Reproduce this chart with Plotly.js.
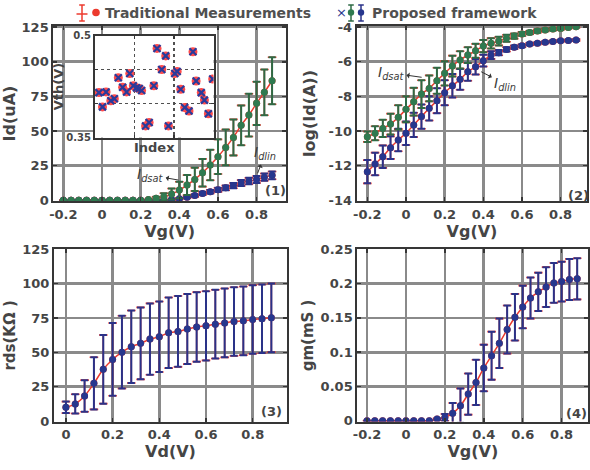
<!DOCTYPE html>
<html>
<head>
<meta charset="utf-8">
<script src="https://cdn.plot.ly/plotly-3.0.1.min.js"></script>
<style>html,body{margin:0;padding:0;background:#fff;}#chart{width:590px;height:470px;}</style>
</head>
<body>
<div id="chart"></div>
<script>
// ---------- data ----------
const vg = [-0.2,-0.16,-0.12,-0.08,-0.04,0,0.04,0.08,0.12,0.16,0.2,0.24,0.28,0.32,0.36,0.4,0.44,0.48,0.52,0.56,0.6,0.64,0.68,0.72,0.76,0.8,0.84,0.88];
const vd = [0,0.04,0.08,0.12,0.16,0.2,0.24,0.28,0.32,0.36,0.4,0.44,0.48,0.52,0.56,0.6,0.64,0.68,0.72,0.76,0.8,0.84,0.88];

// Panel 1: Id (uA)
const idsat    = [0,0,0,0,0,0,0,0,0,0,0.05,0.5,1.4,2.6,4.5,7.4,11,15.1,19.9,25.5,31.5,38.2,45.4,54.1,61.5,70,77.9,86.3];
const idsatErr = [0,0,0,0,0,0,0,0,0,0,0,0.3,1.2,2.5,4,6,7.2,8.4,10,11,12.5,12.9,13,14.4,15.4,15.6,16.5,17];
const idlin    = [0,0,0,0,0,0,0,0,0,0,0,0,0.05,0.15,0.5,1.2,2.2,3.4,5.0,6.2,7.6,9.0,10.6,12.5,13.9,15.0,16.7,18.0];
const idlinErr = [0,0,0,0,0,0,0,0,0,0,0,0,0,0.1,0.3,0.5,0.7,0.9,1.1,1.3,1.5,1.7,1.9,2.1,2.3,2.5,2.6,2.8];

// Panel 2: log(Id(A))
const logIdsat    = [-10.33,-10.13,-9.85,-9.6,-9.21,-8.75,-8.31,-7.87,-7.54,-7.1,-6.67,-6.25,-5.9,-5.62,-5.37,-5.1,-4.94,-4.81,-4.65,-4.52,-4.4,-4.31,-4.23,-4.17,-4.12,-4.08,-4.02,-3.98];
const logIdsatErr = [0.3,0.4,0.5,0.6,0.7,0.75,0.8,0.8,0.75,0.75,0.7,0.6,0.5,0.45,0.4,0.35,0.3,0.25,0.2,0.15,0.12,0.1,0.1,0.08,0.08,0.07,0.06,0.06];
const logIdlin    = [-12.35,-11.9,-11.48,-10.96,-10.52,-10.13,-9.65,-9.17,-8.69,-8.25,-7.79,-7.39,-7.02,-6.58,-6.29,-5.94,-5.62,-5.48,-5.29,-5.17,-5.08,-4.98,-4.94,-4.88,-4.83,-4.79,-4.77,-4.75];
const logIdlinErr = [0.67,0.65,0.65,0.65,0.65,0.68,0.7,0.7,0.7,0.72,0.72,0.68,0.6,0.52,0.45,0.34,0.22,0.15,0.12,0.1,0.08,0.07,0.06,0.06,0.05,0.05,0.05,0.05];

// Panel 3: rds (kOhm) vs Vd
const rds    = [9.9,12.4,18.2,27.4,37.6,44.8,50.1,54,56.5,59.6,61.3,64.2,65.2,66.9,68.5,69.3,70.5,71.4,72.4,72.9,73.9,74.4,75.1];
const rdsErr = [4.2,7,11.5,19,25,26.5,26.5,26.4,26.2,26,25.7,25.7,25.8,25.5,25.3,25.2,25,25.1,25,25,25,25,25];

// Panel 4: gm (mS)
const gm    = [0,0,0,0,0,0,0,0,0,0.0025,0.005,0.011,0.022,0.039,0.056,0.077,0.095,0.113,0.133,0.151,0.166,0.179,0.188,0.195,0.201,0.203,0.206,0.207];
const gmErr = [0,0,0,0,0,0,0,0,0,0.001,0.005,0.015,0.025,0.03,0.033,0.034,0.035,0.036,0.035,0.034,0.031,0.03,0.028,0.029,0.029,0.029,0.03,0.03];

// Inset: Vth vs Index
const vthIndex = [1.0,1.9,2.8,4.0,4.9,5.9,7.0,8.0,8.8,9.7,10.5,11.2,11.8,12.8,13.7,14.9,15.7,16.9,17.9,18.6,20.2,20.8,21.7,22.7,23.8,24.8,25.6,26.9,27.7,28.7,29.8];
const vth      = [0.416,0.395,0.417,0.404,0.407,0.438,0.424,0.417,0.444,0.426,0.423,0.422,0.419,0.367,0.372,0.426,0.481,0.450,0.470,0.367,0.444,0.447,0.421,0.394,0.389,0.476,0.433,0.416,0.405,0.385,0.436];

// tick labels
const vgTickVals = [-0.2,0,0.2,0.4,0.6,0.8];
const vgTickText = ['-0.2','0','0.2','0.4','0.6','0.8'];
const vdTickVals = [0,0.2,0.4,0.6,0.8];
const vdTickText = ['0','0.2','0.4','0.6','0.8'];
const idTickVals = [0,25,50,75,100,125];
const logTickVals = [-14,-12,-10,-8,-6,-4];
const logTickText = ['-14','-12','-10','-8','-6','-4'];
const gmTickVals = [0,0.05,0.1,0.15,0.2,0.25];
const gmTickText = ['0','0.05','0.1','0.15','0.2','0.25'];
const vthTickVals = [0.35,0.5];
const vthTickText = ['0.35','0.5'];
const vthGridVals = [0.4,0.45];
const idxGridVals = [10,20];

// ---------- styles ----------
const F = 'DejaVu Sans';
const RED = '#ec3a2e', GREEN = '#2f7a50', GREEN_E = '#2e6a45', BLUE = '#27378e', BLUE_E = '#2a3288';
const TXT = '#454545';

function redTrace(x, y, e, xa, ya) {
  return {x: x, y: y, xaxis: xa, yaxis: ya, type: 'scatter', mode: 'lines+markers',
    line: {color: RED, width: 1.5, shape: 'spline'},
    marker: {color: RED, size: 7},
    error_y: {type: 'data', array: e, visible: true, color: RED, thickness: 1.6, width: 4.3},
    hoverinfo: 'skip', showlegend: false};
}
function propTrace(x, y, e, xa, ya, c, ce) {
  return {x: x, y: y, xaxis: xa, yaxis: ya, type: 'scatter', mode: 'markers',
    marker: {color: c, size: 7},
    error_y: {type: 'data', array: e, visible: true, color: ce, thickness: 2, width: 3.6},
    hoverinfo: 'skip', showlegend: false};
}

const traces = [
  redTrace(vg, idlin, idlinErr, 'x', 'y'),
  redTrace(vg, idsat, idsatErr, 'x', 'y'),
  propTrace(vg, idlin, idlinErr, 'x', 'y', BLUE, BLUE_E),
  propTrace(vg, idsat, idsatErr, 'x', 'y', GREEN, GREEN_E),

  redTrace(vg, logIdlin, logIdlinErr, 'x2', 'y2'),
  redTrace(vg, logIdsat, logIdsatErr, 'x2', 'y2'),
  propTrace(vg, logIdlin, logIdlinErr, 'x2', 'y2', BLUE, BLUE_E),
  propTrace(vg, logIdsat, logIdsatErr, 'x2', 'y2', GREEN, GREEN_E),

  redTrace(vd, rds, rdsErr, 'x3', 'y3'),
  propTrace(vd, rds, rdsErr, 'x3', 'y3', BLUE, BLUE_E),

  redTrace(vg, gm, gmErr, 'x4', 'y4'),
  propTrace(vg, gm, gmErr, 'x4', 'y4', BLUE, BLUE_E),

  {x: vthIndex, y: vth, xaxis: 'x5', yaxis: 'y5', type: 'scatter', mode: 'markers',
   marker: {color: '#ff4a4a', size: 9}, hoverinfo: 'skip', showlegend: false},
  {x: vthIndex, y: vth, xaxis: 'x5', yaxis: 'y5', type: 'scatter', mode: 'markers',
   marker: {symbol: 'x-thin-open', color: '#2b3a9a', size: 7, line: {color: '#2b3a9a', width: 2.2}},
   hoverinfo: 'skip', showlegend: false}
];

function axis(extra) {
  return Object.assign({
    showline: true, linecolor: '#363636', linewidth: 2, mirror: 'ticks',
    ticks: 'inside', ticklen: 4, tickwidth: 1.5, tickcolor: '#363636',
    showgrid: true, gridcolor: '#8a8a8a', gridwidth: 2.6, zeroline: false,
    tickfont: {family: F, size: 13, color: TXT, weight: 'bold'},
    fixedrange: true, automargin: false
  }, extra);
}
function ttl(t, s, st) { return {text: t, font: {family: F, size: s, color: TXT, weight: 'bold'}, standoff: st}; }

const W = 590, H = 470;
const px = v => v / W;
const py = v => 1 - v / H;
const insetGrid = {showgrid: true, gridcolor: '#505050', gridwidth: 1.5, griddash: 'dot', ticks: 'inside', ticklen: 3, tickcolor: '#363636', tickwidth: 1.5};

const layout = {
  width: W, height: H,
  margin: {l: 0, r: 0, t: 0, b: 0},
  paper_bgcolor: '#fff', plot_bgcolor: '#fff',
  showlegend: false,
  xaxis:  axis({domain: [px(53.3), px(286)], range: [-0.252, 0.952], anchor: 'y', tickvals: vgTickVals, ticktext: vgTickText, title: ttl('Vg(V)', 16, 3)}),
  yaxis:  axis({domain: [py(201), py(26)], range: [-0.5, 125.8], anchor: 'x', tickvals: idTickVals, title: ttl('Id(uA)', 16, 3)}),
  xaxis2: axis({domain: [px(356.7), px(587.3)], range: [-0.255, 0.938], anchor: 'y2', tickvals: vgTickVals, ticktext: vgTickText, title: ttl('Vg(V)', 16, 3)}),
  yaxis2: axis({domain: [py(201), py(26)], range: [-14.04, -3.94], anchor: 'x2', tickvals: logTickVals, ticktext: logTickText, title: ttl('log(Id(A))', 16, 9)}),
  xaxis3: axis({domain: [px(54), px(287)], range: [-0.051, 0.947], anchor: 'y3', tickvals: vdTickVals, ticktext: vdTickText, title: ttl('Vd(V)', 16, 3)}),
  yaxis3: axis({domain: [py(421.5), py(249.3)], range: [-0.4, 125], anchor: 'x3', tickvals: idTickVals, title: ttl('rds(KΩ )', 15, 3)}),
  xaxis4: axis({domain: [px(357.3), px(588.3)], range: [-0.25, 0.937], anchor: 'y4', tickvals: vgTickVals, ticktext: vgTickText, title: ttl('Vg(V)', 16, 3)}),
  yaxis4: axis({domain: [py(421.5), py(249.3)], range: [-0.001, 0.25], anchor: 'x4', tickvals: gmTickVals, ticktext: gmTickText, title: ttl('gm(mS )', 15, 3)}),
  xaxis5: axis({domain: [px(95), px(213.5)], range: [0, 30], anchor: 'y5', tickvals: [], showticklabels: false,
    showgrid: false, ticklen: 3, linewidth: 2,
    minor: Object.assign({tickvals: idxGridVals}, insetGrid),
    title: ttl('Index', 13, 4)}),
  yaxis5: axis({domain: [py(137.5), py(35.5)], range: [0.35, 0.5], anchor: 'x5', tickvals: vthTickVals, ticktext: vthTickText,
    showgrid: false, ticklen: 3, linewidth: 2,
    minor: Object.assign({tickvals: vthGridVals}, insetGrid),
    tickfont: {family: F, size: 10, color: TXT, weight: 'bold'},
    title: ttl('Vth(V)', 13, 0)}),
  annotations: [],
  shapes: []
};

const A = layout.annotations, S = layout.shapes;
const lab = (t, x, y, s) => A.push({text: t, xref: 'paper', yref: 'paper', x: px(x), y: py(y), showarrow: false,
  font: {family: F, size: s, color: TXT, weight: 'bold'}, xanchor: 'center', yanchor: 'middle'});
lab('(1)', 275, 190, 13);
lab('(2)', 578, 195, 13);
lab('(3)', 271.7, 411.7, 13);
lab('(4)', 576.7, 413.3, 13);

// I_dsat / I_dlin labels with arrows pointing toward the label
const note = (t, xa, ya, x, y, ax, ay) => A.push({text: '<i>I<sub>' + t + '</sub></i>', xref: xa, yref: ya, x: x, y: y,
  ax: ax, ay: ay, showarrow: true, arrowside: 'start', arrowhead: 2, arrowsize: 0.9, arrowwidth: 1, arrowcolor: '#333',
  standoff: 0, startstandoff: 1,
  font: {family: F, size: 14, color: '#3c3c3c'}});
note('dsat', 'x', 'y', 0.396, 14.6, -28.3, -5);
note('dlin', 'x', 'y', 0.805, 19.5, 7.7, -20.3);
note('dsat', 'x2', 'y2', 0.081, -6.90, -30.7, -4.3);
note('dlin', 'x2', 'y2', 0.389, -6.58, 24, 12.3);

// top legend (drawn)
A.push({text: 'Traditional Measurements', xref: 'paper', yref: 'paper', x: px(313), y: py(13), showarrow: false,
  xanchor: 'right', yanchor: 'middle', font: {family: F, size: 14, color: '#505050', weight: 'bold'}});
A.push({text: 'Proposed framework', xref: 'paper', yref: 'paper', x: px(370), y: py(13), showarrow: false,
  xanchor: 'left', yanchor: 'middle', font: {family: F, size: 14, color: '#505050', weight: 'bold'}});
A.push({text: '×', xref: 'paper', yref: 'paper', x: px(341), y: py(13), showarrow: false,
  xanchor: 'center', yanchor: 'middle', font: {family: F, size: 13, color: BLUE}});
const ln = (x0, y0, x1, y1, c, w) => S.push({type: 'line', xref: 'paper', yref: 'paper', x0: px(x0), y0: py(y0), x1: px(x1), y1: py(y1), line: {color: c, width: w}});
const dot = (x, y, r, c) => S.push({type: 'circle', xref: 'paper', yref: 'paper', x0: px(x - r), x1: px(x + r), y0: py(y + r), y1: py(y - r), fillcolor: c, line: {width: 0}});
function errGlyph(x, c, withLine) {
  ln(x, 5, x, 21, c, 1.5);
  ln(x - 2.8, 5, x + 2.8, 5, c, 1.5);
  ln(x - 2.8, 21, x + 2.8, 21, c, 1.5);
  if (withLine) ln(x - 5.5, 14, x + 5.5, 14, c, 1.5);
}
errGlyph(82, RED, true);
dot(96, 12.5, 3.8, RED);
errGlyph(351, GREEN_E, false);
dot(351, 12.5, 3.2, GREEN);
errGlyph(361, BLUE_E, false);
dot(361, 12.5, 3.2, BLUE);

Plotly.newPlot('chart', traces, layout, {displayModeBar: false, staticPlot: true});
</script>
</body>
</html>
